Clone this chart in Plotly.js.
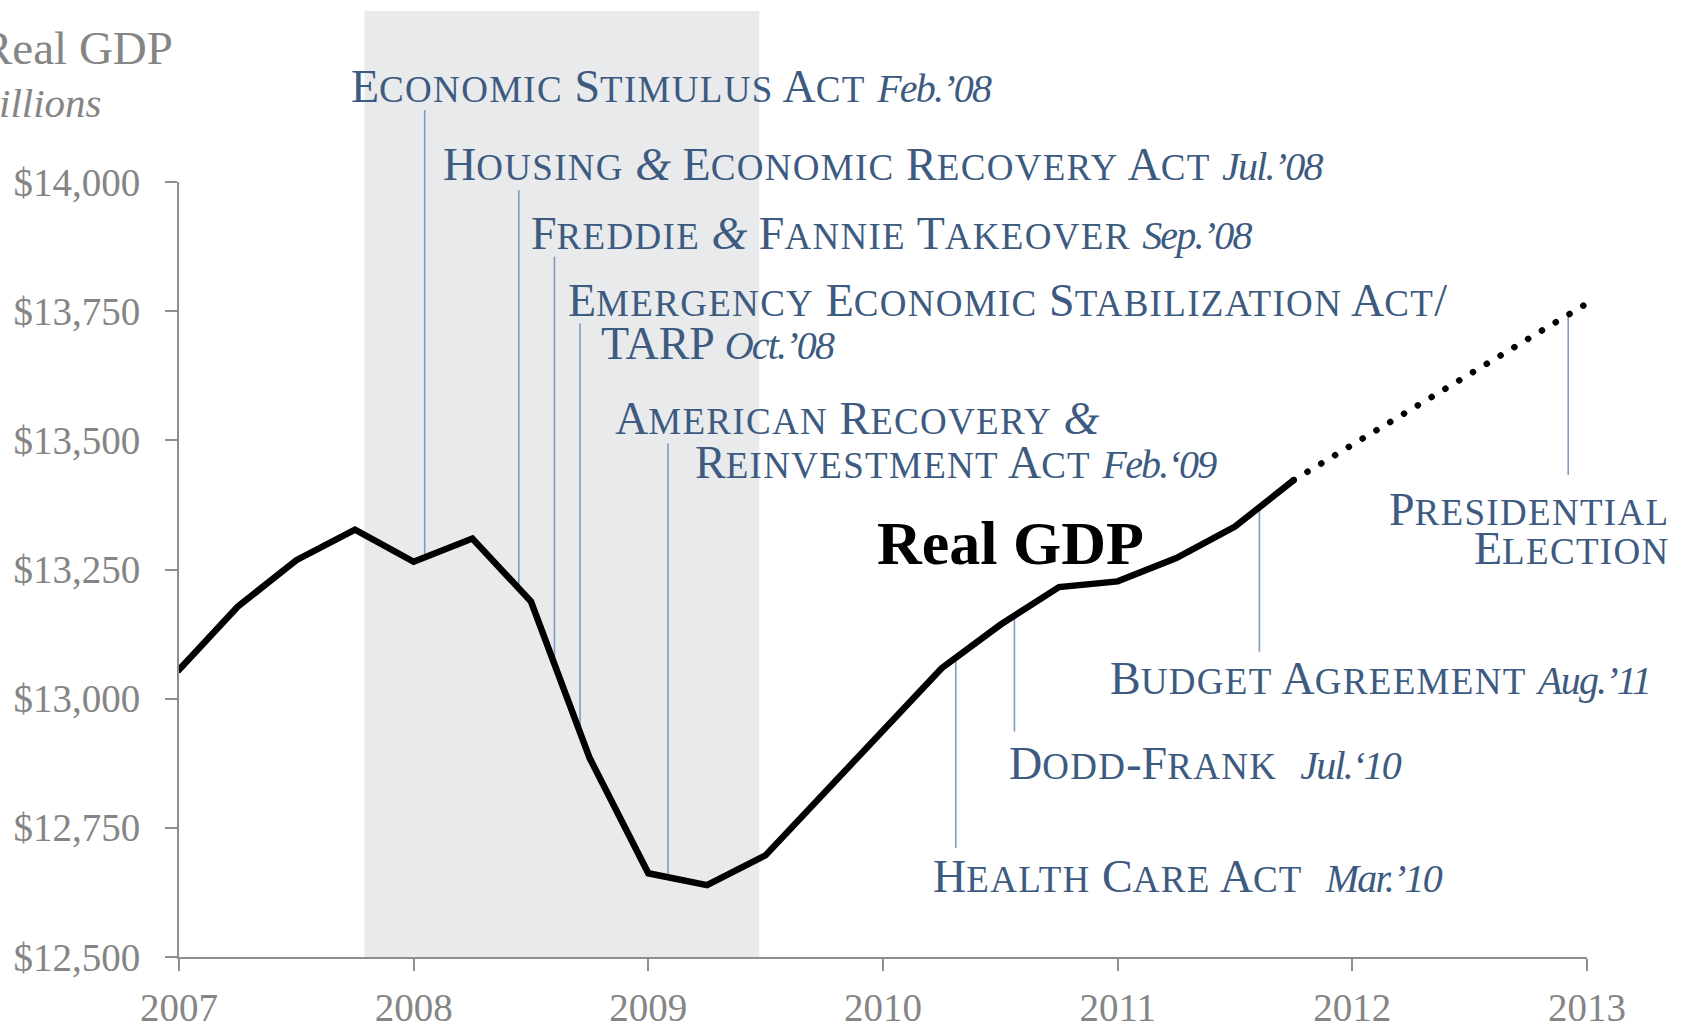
<!DOCTYPE html>
<html>
<head>
<meta charset="utf-8">
<script src="https://cdn.plot.ly/plotly-3.0.1.min.js"></script>
<style>
  html, body { margin: 0; padding: 0; background: #fff; }
  #chart { width: 1686px; height: 1024px; }
  .scatterlayer .js-line { stroke-linecap: round; }
</style>
</head>
<body>
<div id="chart"></div>
<script>
// ---------------- DATA ----------------
const quarters = [2007.0, 2007.25, 2007.5, 2007.75, 2008.0, 2008.25, 2008.5, 2008.75,
                  2009.0, 2009.25, 2009.5, 2009.75, 2010.0, 2010.25, 2010.5, 2010.75,
                  2011.0, 2011.25, 2011.5, 2011.75];
const realGDP = [13056, 13178, 13268, 13327, 13265, 13310, 13188, 12885,
                 12662, 12639, 12697, 12817, 12936, 13059, 13143, 13216,
                 13227, 13272, 13333, 13423];
const projYears = [2011.75, 2013.0];
const projGDP = [13423, 13765];

const recession = [2007.79, 2009.473];

const eventDates = [2008.047, 2008.448, 2008.6, 2008.709, 2009.084, 2010.31, 2010.56, 2011.604, 2012.92];

const yearTicks = [2007, 2008, 2009, 2010, 2011, 2012, 2013];
const yTickVals = [12500, 12750, 13000, 13250, 13500, 13750, 14000];
const yTickText = ['$12,500', '$12,750', '$13,000', '$13,250', '$13,500', '$13,750', '$14,000'];

// ---------------- STYLE ----------------
const FONT = 'Liberation Serif, Times New Roman, serif';
const BLUE = '#3d5a80';
const LEADER = '#7e9cc6';
const GREY = '#858585';
const AXIS = '#8e8e8e';
const SIZE = 46;
const SMALL = 37;
const ITAL = 40;

function sc(s) {
  return s.replace(/[a-z]+/g, m => '<span style="font-size:' + SMALL + 'px;letter-spacing:1.3px">' + m.toUpperCase() + '</span>')
          .replace(/&/g, '<i>&amp;</i>');
}
function it(s) { return '<i><span style="font-size:' + ITAL + 'px;letter-spacing:-1.8px">' + s + '</span></i>'; }

const allX = quarters.concat(projYears.slice(1));
const allY = realGDP.concat(projGDP.slice(1));
function gdpAt(t) {
  for (let i = 0; i < allX.length - 1; i++) {
    if (t >= allX[i] && t <= allX[i + 1]) {
      const f = (t - allX[i]) / (allX[i + 1] - allX[i]);
      return allY[i] + f * (allY[i + 1] - allY[i]);
    }
  }
  return allY[allY.length - 1];
}
const X0 = yearTicks[0], X1 = yearTicks[yearTicks.length - 1];
const Y0 = yTickVals[0], Y1 = yTickVals[yTickVals.length - 1];
const xPaper = t => (t - X0) / (X1 - X0);
const toPaper = v => (v - Y0) / (Y1 - Y0);

// leader line far ends (paper coordinates)
const leaderEnds = [1.0929, 0.9897, 0.9036, 0.8177, 0.6628, 0.1406, 0.2907, 0.3939, 0.6219];

const shapes = [{
  type: 'rect', xref: 'x', yref: 'paper', x0: recession[0], x1: recession[1],
  y0: 0, y1: 1.2206, fillcolor: '#e9eaec', line: {width: 0}, layer: 'below'
}];
eventDates.forEach((d, i) => {
  shapes.push({
    type: 'line', xref: 'x', yref: 'paper', x0: d, x1: d,
    y0: toPaper(gdpAt(d)), y1: leaderEnds[i],
    line: {color: LEADER, width: 1.6}, layer: 'below'
  });
});

// label placement given in axis units, converted to paper so labels outside the ranges still show
function lab(text, x, y, xanchor, extra) {
  return Object.assign({
    text: text, x: xPaper(x), y: toPaper(y), xref: 'paper', yref: 'paper',
    xanchor: xanchor || 'left', yanchor: 'middle', borderpad: 0,
    showarrow: false, font: {family: FONT, size: SIZE, color: BLUE}
  }, extra || {});
}

const annotations = [
  lab(sc('Economic Stimulus Act') + ' ' + it('Feb.’08'), 2007.728, 14183.9),
  lab(sc('Housing & Economic Recovery Act') + ' ' + it('Jul.’08'), 2008.119, 14034.3),
  lab(sc('Freddie & Fannie Takeover') + ' ' + it('Sep.’08'), 2008.495, 13900.7),
  lab(sc('Emergency Economic Stabilization Act/'), 2008.652, 13770.1),
  lab(sc('TARP') + ' ' + it('Oct.’08'), 2008.794, 13686.5),
  lab(sc('American Recovery &'), 2008.855, 13541.3),
  lab(sc('Reinvestment Act') + ' ' + it('Feb.‘09'), 2009.194, 13457.1),
  lab(sc('Presidential'), 2013.352, 13365.2, 'right'),
  lab(sc('Election'), 2013.352, 13291.0, 'right'),
  lab(sc('Budget Agreement') + ' ' + it('Aug.’11'), 2010.963, 13038.1),
  lab(sc('Dodd-Frank') + '  ' + it('Jul.‘10'), 2010.532, 12874.9),
  lab(sc('Health Care Act') + '  ' + it('Mar.’10'), 2010.208, 12655.4),
  lab('<b>Real GDP</b>', 2009.972, 13301.3, 'left', {font: {family: FONT, size: 62, color: '#000'}}),
  lab('Real GDP', 2006.978, 14260.3, 'right', {font: {family: FONT, size: 47, color: GREY}}),
  lab('<i>Billions</i>', 2006.676, 14152.9, 'right', {font: {family: FONT, size: 41, color: GREY}})
];

const traces = [
  {x: quarters, y: realGDP, type: 'scatter', mode: 'lines',
   line: {color: '#000', width: 6.5}, hoverinfo: 'skip'},
  {x: projYears, y: projGDP, type: 'scatter', mode: 'lines',
   line: {color: '#000', width: 6.5, dash: '0.1px,16px'}, hoverinfo: 'skip'}
];

const layout = {
  width: 1686, height: 1024,
  margin: {l: 179, r: 99, t: 182, b: 67},
  paper_bgcolor: '#fff', plot_bgcolor: 'rgba(0,0,0,0)',
  showlegend: false,
  font: {family: FONT, color: GREY},
  xaxis: {
    range: [X0, X1], tickvals: yearTicks, ticktext: yearTicks.map(String),
    showgrid: false, zeroline: false, showline: true, linecolor: AXIS, linewidth: 2,
    ticks: 'outside', ticklen: 12, tickwidth: 2, tickcolor: AXIS,
    tickfont: {family: FONT, size: 39, color: GREY}, ticklabelstandoff: 3
  },
  yaxis: {
    range: [Y0, Y1], tickvals: yTickVals, ticktext: yTickText,
    showgrid: false, zeroline: false, showline: true, linecolor: AXIS, linewidth: 2,
    ticks: 'outside', ticklen: 12, tickwidth: 2, tickcolor: AXIS,
    tickfont: {family: FONT, size: 39, color: GREY}, ticklabelstandoff: 17
  },
  shapes: shapes,
  annotations: annotations
};

Plotly.newPlot('chart', traces, layout, {staticPlot: true, displayModeBar: false});
</script>
</body>
</html>
